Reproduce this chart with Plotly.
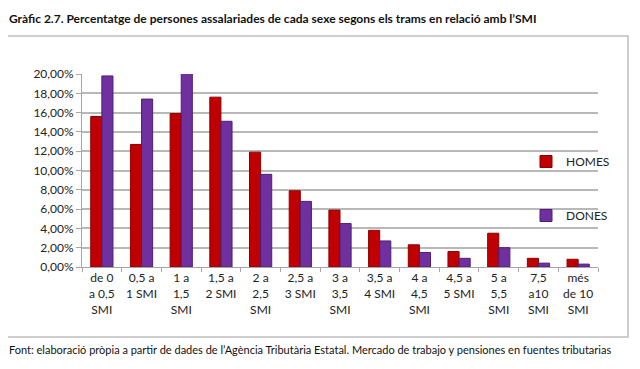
import plotly.graph_objects as go

categories = ["de 0<br>a 0,5<br>SMI", "0,5 a<br>1 SMI", "1 a<br>1,5<br>SMI", "1,5 a<br>2 SMI",
              "2 a<br>2,5<br>SMI", "2,5 a<br>3 SMI", "3 a<br>3,5<br>SMI", "3,5 a<br>4 SMI",
              "4 a<br>4,5<br>SMI", "4,5 a<br>5 SMI", "5 a<br>5,5<br>SMI", "7,5<br>a10<br>SMI",
              "més<br>de 10<br>SMI"]
homes = [15.6, 12.7, 15.9, 17.6, 11.9, 7.9, 5.9, 3.8, 2.3, 1.6, 3.5, 0.9, 0.8]
dones = [19.8, 17.4, 20.1, 15.1, 9.6, 6.8, 4.5, 2.7, 1.5, 0.9, 2.0, 0.4, 0.3]
y_tickvals = [0, 2, 4, 6, 8, 10, 12, 14, 16, 18, 20]
y_ticktext = ["0,00%", "2,00%", "4,00%", "6,00%", "8,00%", "10,00%", "12,00%", "14,00%",
              "16,00%", "18,00%", "20,00%"]

OFF = 8  # page body margin
W, H = 640 - OFF, 369 - OFF
# plot area in reference pixel coordinates
X0, X1, Y0, Y1 = 82, 598, 74, 267
L, R, T, B = X0 - OFF, W - (X1 - OFF), Y0 - OFF, H - (Y1 - OFF)
pw, ph = W - L - R, H - T - B

def px(x):
    return (x - OFF - L) / pw

def py(y):
    return 1 - (y - OFF - T) / ph

FONT = "Lato, sans-serif"
NARROW = "Liberation Sans Narrow, Lato, sans-serif"

fig = go.Figure()
fig.add_trace(go.Bar(x=categories, y=homes, name="HOMES",
                     marker=dict(color="#c00000", line=dict(color="#8b0000", width=1)), legend="legend"))
fig.add_trace(go.Bar(x=categories, y=dones, name="DONES",
                     marker=dict(color="#7030a0", line=dict(color="#4d1f70", width=1)), legend="legend2"))

fig.update_layout(
    width=W, height=H,
    margin=dict(l=L, r=R, t=T, b=B),
    paper_bgcolor="white", plot_bgcolor="white",
    barmode="group", bargap=0.44, bargroupgap=0,
    font=dict(family=FONT, size=12, color="#222"),
    showlegend=True,
    legend=dict(x=px(526), y=py(147), xanchor="left", yanchor="top", bgcolor="rgba(0,0,0,0)",
                font=dict(size=12), itemwidth=30),
    legend2=dict(x=px(526), y=py(201), xanchor="left", yanchor="top", bgcolor="rgba(0,0,0,0)",
                 font=dict(size=12), itemwidth=30),
    xaxis=dict(showgrid=False, showline=True, linecolor="#a6a6a6", linewidth=1,
               ticks="outside", tickson="boundaries", ticklen=4, tickcolor="#a6a6a6",
               tickfont=dict(size=12, family=FONT), tickangle=0),
    yaxis=dict(range=[0, 20], tickvals=y_tickvals, ticktext=y_ticktext,
               showgrid=True, gridcolor="#b8b8b8", gridwidth=2,
               showline=True, linecolor="#a6a6a6", linewidth=1,
               ticks="outside", ticklen=5, tickcolor="#a6a6a6",
               tickfont=dict(size=12, family=FONT), zeroline=False),
    shapes=[dict(type="rect", xref="paper", yref="paper", x0=px(7), x1=px(628), y0=py(337), y1=py(36),
                 line=dict(color="#bfbfbf", width=1.5), layer="below")],
    annotations=[
        dict(text="<b>Gràfic 2.7. Percentatge de persones assalariades de cada sexe segons els trams en relació amb l’SMI</b>",
             xref="paper", yref="paper", x=px(7), y=py(9), xanchor="left", yanchor="top",
             showarrow=False, font=dict(size=12, family=NARROW, color="#111")),
        dict(text="Font: elaboració pròpia a partir de dades de l’Agència Tributària Estatal. Mercado de trabajo y pensiones en fuentes tributarias",
             xref="paper", yref="paper", x=px(7), y=py(349), xanchor="left", yanchor="middle",
             showarrow=False, font=dict(size=11, family=NARROW, color="#111")),
    ],
)

fig.write_html("out.html")
